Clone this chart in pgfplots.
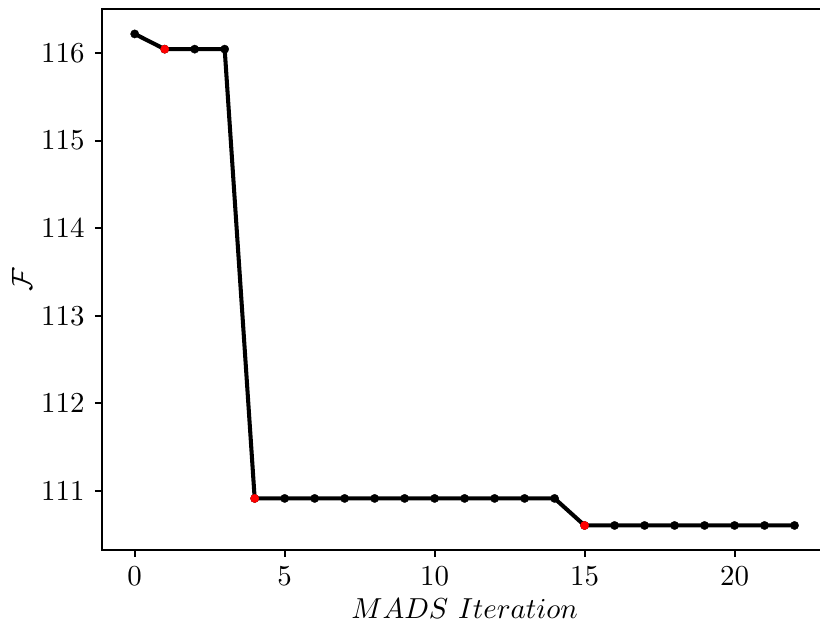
\documentclass[border=0pt]{standalone}
\usepackage{pgfplots}
\pgfplotsset{compat=1.18}
\begin{document}
\begin{tikzpicture}
\begin{axis}[
  at={(0,0)}, anchor=south west,
  scale only axis,
  width=251.1pt, height=187.1pt,
  xmin=-1.1, xmax=23.1,
  ymin=110.322, ymax=116.502,
  xtick={0,5,10,15,20},
  ytick={111,112,113,114,115,116},
  tick align=outside,
  major tick length=2.4pt,
  every tick/.style={black, line width=0.7pt},
  axis line style={line width=0.7pt},
  tick pos=left,
  xlabel={$MADS\ Iteration$},
  ylabel={$\mathcal{F}$},
  xlabel style={at={(axis description cs:0.5,-0.1258)}, anchor=base},
  ylabel style={at={(axis description cs:-0.110,0.5)}, anchor=center},
  /pgf/number format/.cd, 1000 sep={},
]
\addplot[black, line width=1.4pt, mark=*, mark size=1.45pt, mark options={line width=0.1pt}] coordinates {
(0,116.22) (1,116.046) (2,116.046) (3,116.046)
(4,110.912) (5,110.912) (6,110.912) (7,110.912) (8,110.912) (9,110.912)
(10,110.912) (11,110.912) (12,110.912) (13,110.912) (14,110.912)
(15,110.603) (16,110.603) (17,110.603) (18,110.603) (19,110.603)
(20,110.603) (21,110.603) (22,110.603)
};
\addplot[only marks, mark=*, mark size=1.45pt, red, mark options={draw=red, fill=red, line width=0.1pt}] coordinates {
(1,116.046) (4,110.912) (15,110.603)
};
\end{axis}
\pgfresetboundingbox
\path[use as bounding box] (-35.19pt,-26.3pt) rectangle (248.5pt,190.3pt);
\end{tikzpicture}
\end{document}
